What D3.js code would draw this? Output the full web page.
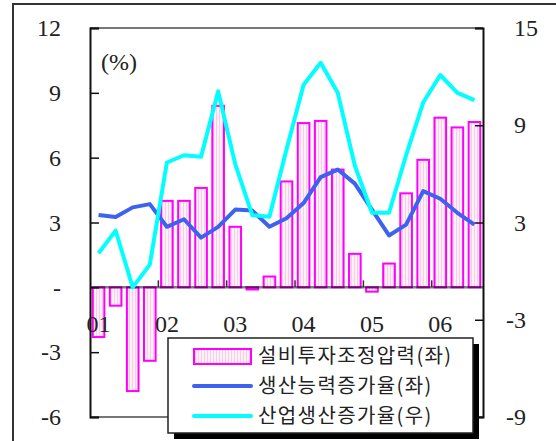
<!DOCTYPE html>
<html>
<head>
<meta charset="utf-8">
<script src="https://cdn.jsdelivr.net/npm/d3@7/dist/d3.min.js"></script>
<style>
  html, body { margin: 0; padding: 0; background: #fff; }
  svg { display: block; }
</style>
</head>
<body>
<svg id="chart" width="556" height="441"></svg>
<script>
// ---- data ----
const quarters = ["01Q1","01Q2","01Q3","01Q4","02Q1","02Q2","02Q3","02Q4","03Q1","03Q2","03Q3","03Q4",
                  "04Q1","04Q2","04Q3","04Q4","05Q1","05Q2","05Q3","05Q4","06Q1","06Q2","06Q3"];
const yearLabels = ["01","02","03","04","05","06"];
const investPressure = [-2.3, -0.85, -4.8, -3.4, 4.0, 4.0, 4.6, 8.4, 2.8, -0.1, 0.5, 4.9,
                        7.6, 7.7, 5.45, 1.55, -0.2, 1.1, 4.35, 5.9, 7.85, 7.4, 7.65];
const capacityGrowth = [3.35, 3.25, 3.7, 3.85, 2.8, 3.15, 2.3, 2.8, 3.6, 3.55, 2.8, 3.2,
                        3.9, 5.1, 5.45, 4.8, 3.6, 2.4, 2.9, 4.45, 4.1, 3.45, 2.9];
const productionGrowth = [1.1, 2.5, -1.0, 0.4, 6.7, 7.15, 7.05, 11.1, 6.6, 3.45, 3.35, 7.5,
                          11.5, 12.85, 11.0, 6.5, 3.6, 3.6, 7.15, 10.4, 12.1, 11.0, 10.55];
const leftTicks = [12, 9, 6, 3, 0, -3, -6];
const rightTicks = [15, 9, 3, -3, -9];
const seriesNames = ["설비투자조정압력(좌)", "생산능력증가율(좌)", "산업생산증가율(우)"];
const unitLabel = "(%)";

// ---- layout ----
const L = 90, R = 483, T = 28, B = 417;
const svg = d3.select("#chart");
const numFont = "'Liberation Serif', 'DejaVu Serif', serif";
const korFont = "'Noto Sans CJK KR', 'Noto Sans', sans-serif";

const x = d3.scaleBand().domain(quarters).range([L, R]).paddingInner(0.32).paddingOuter(0.16);
const yL = d3.scaleLinear().domain([-6, 12]).range([B, T]);
const yR = d3.scaleLinear().domain([-9, 15]).range([B, T]);
const cx = q => x(q) + x.bandwidth() / 2;

// pattern for bars
const defs = svg.append("defs");
const pat = defs.append("pattern").attr("id", "hatch").attr("patternUnits", "userSpaceOnUse")
  .attr("width", 3).attr("height", 6);
pat.append("rect").attr("width", 3).attr("height", 6).attr("fill", "#fff0f7");
pat.append("line").attr("x1", 0.5).attr("x2", 0.5).attr("y1", 0).attr("y2", 6)
  .attr("stroke", "#f8cde6").attr("stroke-width", 1);

// outer frame
svg.append("path").attr("d", "M13,441 L13,4 L556,4").attr("fill", "none")
  .attr("stroke", "#333").attr("stroke-width", 2);

// plot border (top/bottom gray)
svg.append("line").attr("x1", L).attr("x2", R).attr("y1", T).attr("y2", T)
  .attr("stroke", "#777").attr("stroke-width", 2);
svg.append("line").attr("x1", L).attr("x2", R).attr("y1", B).attr("y2", B)
  .attr("stroke", "#777").attr("stroke-width", 2);

// bars
svg.append("g").selectAll("rect").data(quarters).join("rect")
  .attr("x", q => x(q))
  .attr("width", x.bandwidth())
  .attr("y", (q, i) => yL(Math.max(0, investPressure[i])))
  .attr("height", (q, i) => Math.abs(yL(investPressure[i]) - yL(0)))
  .attr("fill", "url(#hatch)")
  .attr("stroke", "#ff00ff").attr("stroke-width", 2);

// zero line
svg.append("line").attr("x1", L).attr("x2", R).attr("y1", yL(0)).attr("y2", yL(0))
  .attr("stroke", "#000").attr("stroke-opacity", 0.5).attr("stroke-width", 2.5);
// year boundary ticks on zero line
const yearStarts = quarters.filter(q => q.endsWith("Q1")).slice(1);
svg.append("g").selectAll("line").data(yearStarts).join("line")
  .attr("x1", q => x(q) - x.step() * x.paddingInner() / 2)
  .attr("x2", q => x(q) - x.step() * x.paddingInner() / 2)
  .attr("y1", yL(0)).attr("y2", yL(0) - 7)
  .attr("stroke", "#333").attr("stroke-width", 1.5);

// left axis
const gl = svg.append("g").attr("transform", `translate(${L},0)`)
  .call(d3.axisLeft(yL).tickValues(leftTicks).tickSize(-9).tickFormat(d => d === 0 ? "-" : String(d).replace("−", "-")));
gl.select(".domain").attr("stroke", "#111").attr("stroke-width", 2);
gl.selectAll(".tick line").attr("stroke", "#111").attr("stroke-width", 1.5);
gl.selectAll(".tick text").attr("x", -29).attr("dy", "0.32em")
  .attr("font-family", numFont).attr("font-size", 24).attr("fill", "#222").attr("text-anchor", "end");

// right axis
const gr = svg.append("g").attr("transform", `translate(${R},0)`)
  .call(d3.axisRight(yR).tickValues(rightTicks).tickSize(-8).tickFormat(d => String(d).replace("−", "-")));
gr.select(".domain").attr("stroke", "#111").attr("stroke-width", 2);
gr.selectAll(".tick line").attr("stroke", "#111").attr("stroke-width", 1.5);
gr.selectAll(".tick text").attr("x", d => d < 0 ? 23 : 31).attr("dy", "0.32em")
  .attr("font-family", numFont).attr("font-size", 24).attr("fill", "#222").attr("text-anchor", "start");

// x labels (years)
const q1s = quarters.filter(q => q.endsWith("Q1"));
svg.append("g").selectAll("text").data(q1s).join("text")
  .attr("x", q => cx(q)).attr("y", 332)
  .attr("text-anchor", "middle")
  .attr("font-family", numFont).attr("font-size", 24).attr("fill", "#222")
  .text((q, i) => yearLabels[i]);

// unit label
svg.append("text").attr("x", 101).attr("y", 70)
  .attr("font-family", numFont).attr("font-size", 24).attr("fill", "#222").text(unitLabel);

// lines
const lineL = d3.line().x((d, i) => cx(quarters[i])).y(d => yL(d));
const lineR = d3.line().x((d, i) => cx(quarters[i])).y(d => yR(d));
svg.append("path").datum(capacityGrowth).attr("d", lineL).attr("fill", "none")
  .attr("stroke", "#3d63ee").attr("stroke-width", 4).attr("stroke-linejoin", "round");
svg.append("path").datum(productionGrowth).attr("d", lineR).attr("fill", "none")
  .attr("stroke", "#00ffff").attr("stroke-width", 4).attr("stroke-linejoin", "round");

// legend
const lg = svg.append("g");
lg.append("rect").attr("x", 174).attr("y", 344).attr("width", 305).attr("height", 95).attr("fill", "#000");
lg.append("rect").attr("x", 168).attr("y", 338).attr("width", 305).attr("height", 95)
  .attr("fill", "#fff").attr("stroke", "#222").attr("stroke-width", 1.5);
const rowY = [356, 386, 416];
lg.append("rect").attr("x", 194).attr("y", rowY[0] - 7).attr("width", 57).attr("height", 15)
  .attr("fill", "url(#hatch)").attr("stroke", "#ff00ff").attr("stroke-width", 2);
lg.append("line").attr("x1", 194).attr("x2", 251).attr("y1", rowY[1]).attr("y2", rowY[1])
  .attr("stroke", "#3d63ee").attr("stroke-width", 4).attr("stroke-linecap", "round");
lg.append("line").attr("x1", 194).attr("x2", 251).attr("y1", rowY[2]).attr("y2", rowY[2])
  .attr("stroke", "#00ffff").attr("stroke-width", 4).attr("stroke-linecap", "round");
lg.selectAll("text.lbl").data(seriesNames).join("text").attr("class", "lbl")
  .attr("x", 258).attr("y", (d, i) => rowY[i] + 7)
  .attr("font-family", korFont).attr("font-size", 20).attr("letter-spacing", 1.4).attr("fill", "#222")
  .text(d => d);
</script>
</body>
</html>
